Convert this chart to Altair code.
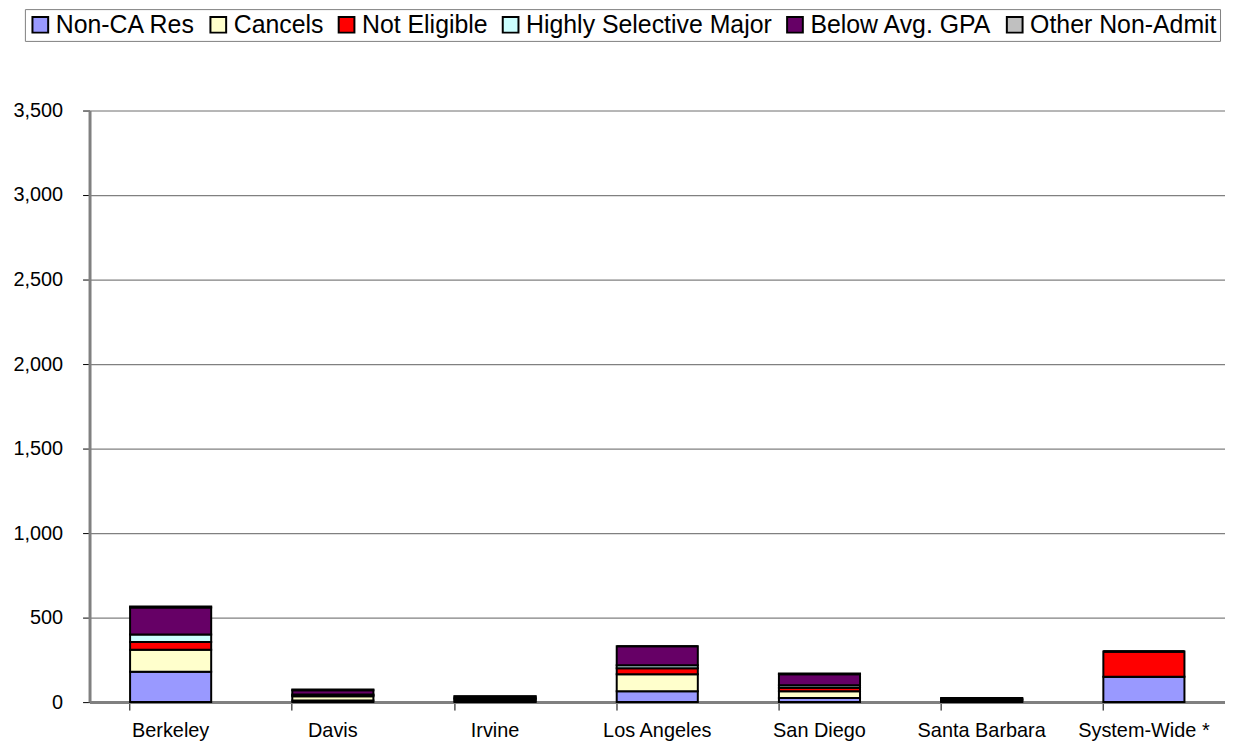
import altair as alt
import pandas as pd

campuses = ["Berkeley", "Davis", "Irvine", "Los Angeles", "San Diego", "Santa Barbara", "System-Wide *"]
series = ["Non-CA Res", "Cancels", "Not Eligible", "Highly Selective Major", "Below Avg. GPA", "Other Non-Admit"]
colors = ["#9999ff", "#ffffcc", "#ff0000", "#ccffff", "#660066", "#c0c0c0"]

non_ca_res = [180, 10, 5, 65, 25, 3, 150]
cancels = [130, 25, 10, 100, 40, 8, 0]
not_eligible = [45, 5, 5, 35, 20, 3, 150]
highly_selective = [45, 5, 5, 18, 15, 3, 0]
below_avg_gpa = [160, 25, 8, 112, 65, 5, 0]
other_non_admit = [5, 5, 2, 0, 5, 2, 0]

values = [non_ca_res, cancels, not_eligible, highly_selective, below_avg_gpa, other_non_admit]
rows = []
for si, (name, vals) in enumerate(zip(series, values)):
    for c, v in zip(campuses, vals):
        rows.append({"campus": c, "series": name, "value": v, "idx": si})
df = pd.DataFrame(rows)

font = "Liberation Sans"

chart = alt.Chart(df).mark_bar(stroke="black", strokeWidth=2).encode(
    x=alt.X("campus:N", sort=campuses, title=None,
            scale=alt.Scale(paddingInner=0.5, paddingOuter=0.25),
            axis=alt.Axis(labelAngle=0, labelFont=font, labelFontSize=20, labelColor="black",
                          labelPadding=11, bandPosition=0, tickSize=8, tickColor="black",
                          domainColor="#808080", domainWidth=3, grid=False, labelLimit=0)),
    y=alt.Y("value:Q", stack="zero", title=None,
            scale=alt.Scale(domain=[0, 3500], nice=False),
            axis=alt.Axis(values=[0, 500, 1000, 1500, 2000, 2500, 3000, 3500], format=",.0f",
                          labelFont=font, labelFontSize=20, labelColor="black", labelPadding=20,
                          tickSize=7, tickColor="black", domainColor="#808080", domainWidth=3,
                          gridColor="#808080", gridWidth=1.2)),
    color=alt.Color("series:N", sort=series,
                    scale=alt.Scale(domain=series, range=colors),
                    legend=alt.Legend(title=None, orient="none", legendX=-65, legendY=-102,
                                      direction="horizontal", columns=6, symbolType="square",
                                      symbolSize=250, symbolStrokeColor="black", symbolStrokeWidth=2,
                                      labelFont=font, labelFontSize=25, labelColor="black",
                                      labelLimit=0, labelOffset=3, columnPadding=10, padding=3,
                                      strokeColor="#808080", fillColor="white")),
    order=alt.Order("idx:Q", sort="ascending"),
).properties(
    width=1142, height=595,
    autosize=alt.AutoSizeParams(type="none"),
    padding={"left": 82, "top": 101, "right": 0, "bottom": 38},
).configure_view(stroke=None).configure(background="white")

chart.save("out.html", embed_options={"renderer": "svg", "actions": False})
